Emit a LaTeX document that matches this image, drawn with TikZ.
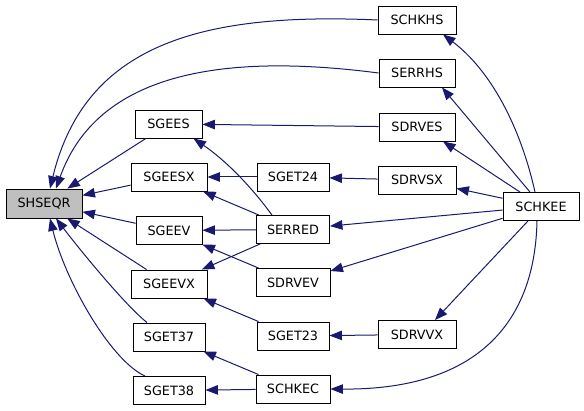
\documentclass[tikz,border=0pt]{standalone}
\usepackage{fontspec}
\setmainfont{DejaVu Sans}
\usetikzlibrary{arrows.meta}
\definecolor{edgec}{HTML}{191970}
\definecolor{rootfill}{HTML}{BFBFBF}
\begin{document}
\begin{tikzpicture}[x=1pt,y=-1pt,
  box/.style={draw=black,line width=0.9pt,fill=white,minimum height=28pt,inner sep=0pt,
    font=\fontsize{12.8}{15}\selectfont},
  e/.style={draw=edgec,line width=1pt,-{Triangle[length=12.5pt,width=9.5pt]}}]
\useasboundingbox (0,0) rectangle (584,411);
% nodes
\node[box,fill=rootfill,minimum width=76pt,minimum height=29pt] (SHSEQR) at (44,203.5) {SHSEQR};
\node[box,minimum width=67pt] (SGEES) at (168.5,124) {SGEES};
\node[box,minimum width=76pt] (SGEESX) at (169,177) {SGEESX};
\node[box,minimum width=66pt] (SGEEV) at (169,230.5) {SGEEV};
\node[box,minimum width=76pt] (SGEEVX) at (169,284) {SGEEVX};
\node[box,minimum width=72pt] (SGET37) at (169,337) {SGET37};
\node[box,minimum width=72pt] (SGET38) at (169,390.5) {SGET38};
\node[box,minimum width=72pt] (SGET24) at (293,177) {SGET24};
\node[box,minimum width=73pt] (SERRED) at (293,229.5) {SERRED};
\node[box,minimum width=74pt] (SDRVEV) at (293,282.5) {SDRVEV};
\node[box,minimum width=72pt] (SGET23) at (293,336) {SGET23};
\node[box,minimum width=74pt] (SCHKEC) at (293,389) {SCHKEC};
\node[box,minimum width=78pt] (SCHKHS) at (417,20) {SCHKHS};
\node[box,minimum width=76pt] (SERRHS) at (417,73) {SERRHS};
\node[box,minimum width=76pt] (SDRVES) at (417,127) {SDRVES};
\node[box,minimum width=78pt] (SDRVSX) at (417,180) {SDRVSX};
\node[box,minimum width=78pt] (SDRVVX) at (417,334.5) {SDRVVX};
\node[box,minimum width=76pt] (SCHKEE) at (541,206.5) {SCHKEE};
% edges into SHSEQR
\draw[e] (SCHKHS.west) .. controls (200,12) and (85,45) .. ([xshift=6pt]SHSEQR.north);
\draw[e] (SERRHS.west) .. controls (240,55) and (100,65) .. ([xshift=12pt]SHSEQR.north);
\draw[e] (SGEES) -- (SHSEQR);
\draw[e] (SGEESX) -- (SHSEQR);
\draw[e] (SGEEV) -- (SHSEQR);
\draw[e] (SGEEVX) -- (SHSEQR);
\draw[e] ([xshift=-22pt]SGET37.north) .. controls (125,305) and (80,250) .. ([xshift=12pt]SHSEQR.south);
\draw[e] ([xshift=-24pt]SGET38.north) .. controls (110,360) and (65,280) .. ([xshift=6pt]SHSEQR.south);
% second column
\draw[e] (SDRVES) -- (SGEES);
\draw[e] ([xshift=-21pt]SERRED.north) .. controls (250,185) and (225,160) .. ([xshift=25pt]SGEES.south);
\draw[e] (SGET24) -- (SGEESX);
\draw[e] (SERRED) -- (SGEESX);
\draw[e] (SERRED) -- (SGEEV);
\draw[e] (SDRVEV) -- (SGEEV);
\draw[e] (SERRED) -- (SGEEVX);
\draw[e] (SGET23) -- (SGEEVX);
\draw[e] (SCHKEC) -- (SGET37);
\draw[e] (SCHKEC) -- (SGET38);
\draw[e] (SDRVSX) -- (SGET24);
\draw[e] (SDRVVX) -- (SGET23);
% from SCHKEE
\draw[e] ([xshift=-6pt]SCHKEE.north) .. controls (520,125) and (490,70) .. ([xshift=26pt]SCHKHS.south);
\draw[e] ([xshift=-11pt]SCHKEE.north) -- ([xshift=25pt]SERRHS.south);
\draw[e] ([xshift=-21pt]SCHKEE.north) -- ([xshift=26pt]SDRVES.south);
\draw[e] (SCHKEE) -- (SDRVSX);
\draw[e] (SCHKEE) -- (SERRED);
\draw[e] (SCHKEE) -- (SDRVEV);
\draw[e] ([xshift=-13pt]SCHKEE.south) -- ([xshift=18pt]SDRVVX.north);
\draw[e] ([xshift=-4pt]SCHKEE.south) .. controls (535,320) and (480,390) .. (SCHKEC.east);
\end{tikzpicture}
\end{document}
